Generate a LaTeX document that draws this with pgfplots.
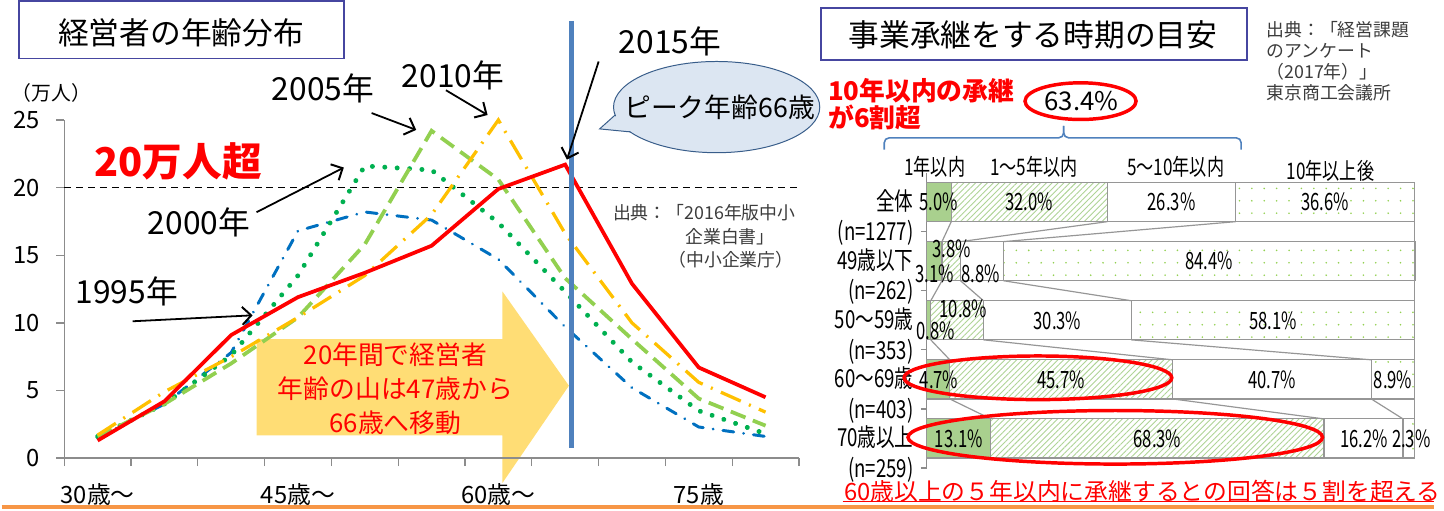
\documentclass[border=0pt]{standalone}
\usepackage{fontspec}
\setmainfont{Noto Sans CJK JP}
\newfontfamily\narrowf{Noto Sans CJK JP}[FakeStretch=0.75]
\newfontfamily\pctf{Noto Sans CJK JP}[FakeStretch=0.70]
\usepackage{pgfplots}
\pgfplotsset{compat=1.18}
\usetikzlibrary{arrows.meta,patterns.meta}
\newcommand{\fs}[1]{\fontsize{#1}{#1}\selectfont}
\definecolor{c95}{RGB}{0,112,192}
\definecolor{c00}{RGB}{0,176,80}
\definecolor{c05}{RGB}{146,208,80}
\definecolor{c10}{RGB}{255,192,0}
\definecolor{c15}{RGB}{255,0,0}
\definecolor{vline}{RGB}{79,129,189}
\definecolor{bubf}{RGB}{220,230,242}
\definecolor{bube}{RGB}{56,93,138}
\definecolor{arrowc}{RGB}{255,217,102}
\definecolor{boxc}{RGB}{70,70,160}
\definecolor{gbar}{RGB}{169,208,142}
\definecolor{hatchc}{RGB}{175,212,150}
\definecolor{dotc}{RGB}{146,208,80}
\definecolor{bord}{RGB}{150,150,150}
\definecolor{axc}{RGB}{140,140,140}
\definecolor{orng}{RGB}{247,150,70}
\definecolor{srcc}{RGB}{60,60,60}
\definecolor{bracec}{RGB}{79,129,189}
\tikzset{pct/.style={font=\pctf\fs{24}, inner sep=0pt},
  ann/.style={-{Straight Barb[length=9pt,width=18pt,line width=2pt]}, line width=1.8pt, black}}
\pgfplotsset{barframe/.style={at={(933pt,-468pt)}, anchor=south west, scale only axis,
  width=492pt, height=298pt, xmin=0, xmax=100, ymin=-0.5, ymax=4.5, y dir=reverse}}
\begin{document}
\begin{tikzpicture}
\begin{scope}[x=1pt,y=-1pt]
\path[use as bounding box] (0,0) rectangle (1444,511);
\fill[arrowc, opacity=0.9] (257,338) -- (505,338) -- (505,290) -- (572,385) -- (505,483) -- (505,435) -- (257,435) -- cycle;
\end{scope}

% ---------- left chart ----------
\begin{axis}[
  at={(63pt,-458pt)}, anchor=south west, scale only axis,
  width=741pt, height=341pt,
  xmin=0, xmax=11, ymin=0, ymax=25,
  axis lines=left, axis line style={-, draw=axc, line width=1.3pt},
  xtick={0,...,11}, xticklabels={{},{},{},{},{},{},{},{},{},{},{},{}},
  ytick={0,5,10,15,20,25},
  tick align=outside, major tick length=8pt,
  tick style={draw=axc, line width=1.3pt},
  extra x ticks={0.5,3.5,6.5,9.5},
  extra x tick labels={30歳～,45歳～,60歳～,75歳},
  extra x tick style={major tick length=0pt, xticklabel style={anchor=center, yshift=-37pt}},
  yticklabel style={anchor=east, xshift=-13pt},
  ticklabel style={font=\fs{24}},
  /pgf/number format/assume math mode=true,
  clip=false,
]
\draw[black, line width=1.3pt, dash pattern=on 7pt off 5pt] (axis cs:0,20) -- (axis cs:11,20);
\addplot[c95, line width=3pt, line cap=round, dash pattern=on 11pt off 10pt on 0.01pt off 10pt] coordinates {
(0.5,1.5) (1.5,4.0) (2.5,7.8) (3.5,16.8) (4.5,18.2) (5.5,17.6) (6.5,14.7) (7.5,9.7) (8.5,5.2) (9.5,2.3) (10.5,1.6)};
\addplot[c00, line width=5pt, line cap=round, dash pattern=on 0.01pt off 12.5pt] coordinates {
(0.5,1.6) (1.5,4.0) (2.5,7.6) (3.5,13.5) (4.5,21.6) (5.5,21.3) (6.5,17.4) (7.5,12.3) (8.5,7.1) (9.5,3.5) (10.5,1.8)};
\addplot[c05, line width=3.8pt, dash pattern=on 16pt off 8pt] coordinates {
(0.5,1.6) (1.5,4.0) (2.5,7.0) (3.5,10.4) (4.5,15.8) (5.5,24.2) (6.5,20.6) (7.5,13.3) (8.5,8.8) (9.5,4.4) (10.5,2.4)};
\addplot[c10, line width=3.3pt, dash pattern=on 22pt off 9pt on 2pt off 9pt] coordinates {
(0.5,1.7) (1.5,4.9) (2.5,7.5) (3.5,10.4) (4.5,13.5) (5.5,18.0) (6.5,25.0) (7.5,16.6) (8.5,10.0) (9.5,5.6) (10.5,3.4)};
\addplot[c15, line width=3.8pt] coordinates {
(0.5,1.3) (1.5,4.2) (2.5,9.1) (3.5,11.9) (4.5,13.7) (5.5,15.7) (6.5,19.9) (7.5,21.7) (8.5,12.9) (9.5,6.7) (10.5,4.5)};
\end{axis}

% ---------- right chart ----------
\begin{axis}[
  barframe,
  xbar stacked, bar width=39.5pt,
  axis x line=none, axis y line=left,
  axis line style={-, draw=axc, line width=1.2pt},
  xtick=\empty,
  ytick={0,1,2,3,4},
  yticklabels={{全体\\(n=1277)},{49歳以下\\(n=262)},{50～59歳\\(n=353)},{60～69歳\\(n=403)},{70歳以上\\(n=259)}},
  yticklabel style={align=right, anchor=east, yshift=-15.5pt, xshift=-10pt, font=\narrowf\fontsize{25}{31}\selectfont},
  major tick length=0pt,
  extra y ticks={0.5,1.5,2.5,3.5,4.5}, extra y tick labels={},
  extra y tick style={major tick length=6pt, tick align=outside, tick style={draw=axc, line width=1.2pt}},
  clip=false,
]
\addplot[fill=gbar, draw=bord, line width=1.2pt] coordinates {(5.0,0) (3.1,1) (0.8,2) (4.7,3) (13.1,4)};
\addplot[fill=white, draw=bord, line width=1.2pt, postaction={pattern={Lines[angle=45,distance=4.2pt,line width=0.9pt]}, pattern color=hatchc}] coordinates {(32.0,0) (3.8,1) (10.8,2) (45.7,3) (68.3,4)};
\addplot[fill=white, draw=bord, line width=1.2pt] coordinates {(26.3,0) (8.8,1) (30.3,2) (40.7,3) (16.2,4)};
\addplot[fill=white, draw=bord, line width=1.2pt, postaction={pattern={Dots[distance=12.5pt,radius=0.9pt]}, pattern color=dotc}] coordinates {(36.6,0) (84.4,1) (58.1,2) (8.9,3) (2.3,4)};
\end{axis}

% overlay: series lines and value labels
\begin{axis}[barframe, hide axis, clip=false]
\draw[bord, line width=1.2pt] (axis cs:5.0,0.331) -- (axis cs:3.1,0.669) (axis cs:37.0,0.331) -- (axis cs:6.9,0.669) (axis cs:63.3,0.331) -- (axis cs:15.7,0.669);
\draw[bord, line width=1.2pt] (axis cs:3.1,1.331) -- (axis cs:0.8,1.669) (axis cs:6.9,1.331) -- (axis cs:11.6,1.669) (axis cs:15.7,1.331) -- (axis cs:41.9,1.669);
\draw[bord, line width=1.2pt] (axis cs:0.8,2.331) -- (axis cs:4.7,2.669) (axis cs:11.6,2.331) -- (axis cs:50.4,2.669) (axis cs:41.9,2.331) -- (axis cs:91.1,2.669);
\draw[bord, line width=1.2pt] (axis cs:4.7,3.331) -- (axis cs:13.1,3.669) (axis cs:50.4,3.331) -- (axis cs:81.4,3.669) (axis cs:91.1,3.331) -- (axis cs:97.6,3.669);
\draw[bord, line width=1.2pt] (axis cs:100,-0.331) -- (axis cs:100,4.331);
\node[pct] at (axis cs:2.4,0) {5.0\%};
\node[pct] at (axis cs:21.0,0) {32.0\%};
\node[pct] at (axis cs:50.15,0) {26.3\%};
\node[pct] at (axis cs:81.6,0) {36.6\%};
\node[pct] at (axis cs:5.1,0.79) {3.8\%};
\node[pct] at (axis cs:1.6,1.21) {3.1\%};
\node[pct] at (axis cs:11.0,1.21) {8.8\%};
\node[pct] at (axis cs:57.9,1) {84.4\%};
\node[pct] at (axis cs:7.5,1.81) {10.8\%};
\node[pct] at (axis cs:1.8,2.18) {0.8\%};
\node[pct] at (axis cs:26.75,2) {30.3\%};
\node[pct] at (axis cs:70.95,2) {58.1\%};
\node[pct] at (axis cs:2.5,3) {4.7\%};
\node[pct] at (axis cs:27.55,3) {45.7\%};
\node[pct] at (axis cs:70.75,3) {40.7\%};
\node[pct] at (axis cs:95.55,3) {8.9\%};
\node[pct] at (axis cs:6.55,4) {13.1\%};
\node[pct] at (axis cs:47.25,4) {68.3\%};
\node[pct] at (axis cs:89.6,4) {16.2\%};
\node[pct] at (axis cs:99.3,4) {2.3\%};
\end{axis}

\begin{scope}[x=1pt,y=-1pt]
% left title
\draw[boxc, line width=2pt] (17,-3) rectangle (345,55);
\node at (181,29) {\fs{31}経営者の年齢分布};
\node at (50,90) {\fs{20}（万人）};
\node[c15] at (178,159) {\fs{40}\bfseries 20万人超};
% year labels and arrows
\node at (324,85) {\fs{32}2005年};
\node at (455,72) {\fs{32}2010年};
\node at (674,38) {\fs{32}2015年};
\node at (199,220) {\fs{32}2000年};
\node at (126,290) {\fs{32}1995年};
\draw[ann] (373,110) -- (418,127);
\draw[ann] (448,87) -- (490,112);
\draw[ann] (257,210) -- (345,165);
\draw[ann] (132,320) -- (253,314);
% arrow text
\node[c15, align=center, font={\fontsize{26}{34}\selectfont}] at (397,388) {20年間で経営者\\年齢の山は47歳から\\66歳へ移動};
% vertical line
\draw[vline, line width=5pt] (575,17) -- (575,448);
\draw[ann] (602,58) -- (570,157);
% bubble
\fill[bubf] (619,112) -- (603,126) -- (633.7,129) -- cycle;
\draw[bube, line width=1pt, fill=bubf] (721,104) ellipse [x radius=104, y radius=46];
\fill[bubf] (619.8,112.6) -- (605.5,125.4) -- (633,128.2) -- (645,118) -- cycle;
\draw[bube, line width=1pt] (618.6,112) -- (603,126) -- (633.7,129);
\node at (724,104) {\fs{27}ピーク年齢66歳};
% left source
\node[anchor=west, srcc] at (613,210) {\fs{18}出典：「2016年版中小};
\node[anchor=west, srcc] at (686,235) {\fs{18}企業白書」};
\node[anchor=west, srcc] at (669,258) {\fs{18}（中小企業庁）};
% right title
\draw[boxc, line width=2pt] (826,4) rectangle (1256,57);
\node at (1040,31) {\fs{31}事業承継をする時期の目安};
% right source
\node[anchor=west, srcc] at (1272,26) {\fs{18}出典：「経営課題};
\node[anchor=west, srcc] at (1272,47) {\fs{18}のアンケート};
\node[anchor=west, srcc] at (1272,68) {\fs{18}（2017年）」};
\node[anchor=west, srcc] at (1272,90) {\fs{18}東京商工会議所};
% red callout
\node[anchor=west, c15] at (830,87) {\fs{26}\bfseries 10年以内の承継};
\node[anchor=west, c15] at (830,114) {\fs{26}\bfseries が6割超};
\draw[c15, line width=3.5pt] (1088,98) ellipse [x radius=56, y radius=18.5];
\node at (1089,98) {\fs{26}63.4\%};
% brace
\draw[bracec, line width=1.6pt, rounded corners=5pt] (890,147) -- (890,135) -- (1071,135) -- (1071,123);
\draw[bracec, line width=1.6pt, rounded corners=5pt] (1071,123) -- (1071,135) -- (1250,135) -- (1250,147);
% headers
\node at (941,164) {\narrowf\fs{23}1年以内};
\node at (1041,164) {\narrowf\fs{23}1～5年以内};
\node at (1184,164) {\narrowf\fs{23}5～10年以内};
\node at (1340,168) {\narrowf\fs{23}10年以上後};
% red ellipses
\draw[c15, line width=3.5pt] (1045,377) ellipse [x radius=135, y radius=22];
\draw[c15, line width=3.5pt] (1123,437) ellipse [x radius=209, y radius=27];
% bottom text
\node[anchor=west, c15] at (846,491) {\fs{24}60歳以上の５年以内に承継するとの回答は５割を超える};
\draw[c15, line width=1.2pt] (848,502) -- (1444,502);
\draw[orng, line width=3.5pt] (0,507.5) -- (1444,507.5);
\end{scope}
\end{tikzpicture}
\end{document}
